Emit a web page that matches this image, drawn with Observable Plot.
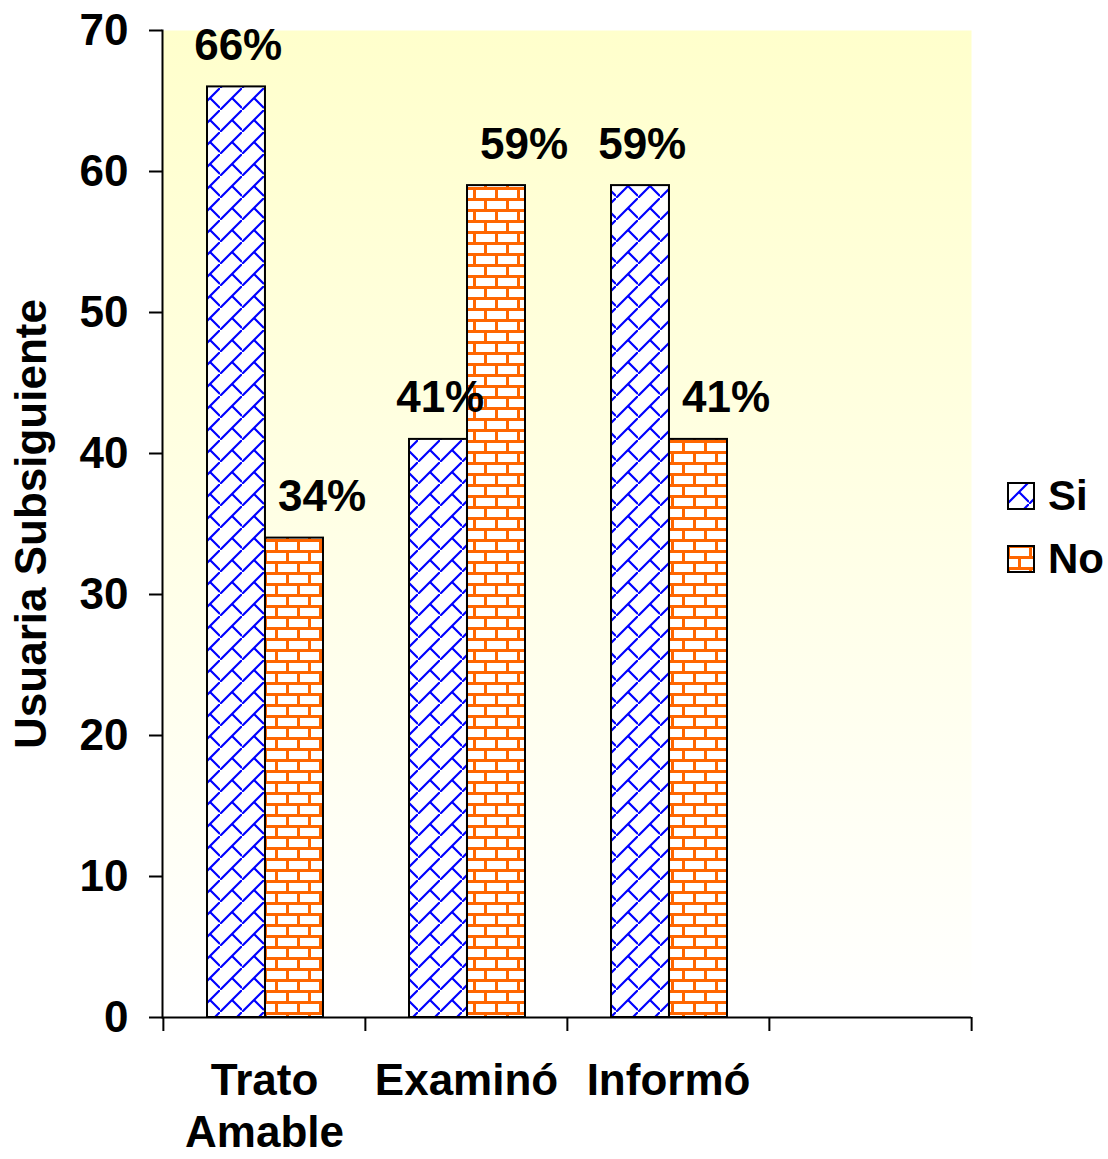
<!DOCTYPE html>
<html><head><meta charset="utf-8">
<script src="https://cdn.jsdelivr.net/npm/d3@7"></script>
<script src="https://cdn.jsdelivr.net/npm/@observablehq/plot@0.6"></script>
<style>
body{margin:0;background:#fff;}
#wrap{position:relative;width:1108px;height:1159px;font-family:"Liberation Sans",Arial,sans-serif;font-weight:bold;}
.leg{position:absolute;left:1007px;display:flex;align-items:center;font-size:42px;line-height:1;}
.leg svg{display:block;margin-right:13px;}
</style></head>
<body>
<svg width="0" height="0" style="position:absolute">
  <defs>
    <linearGradient id="bgGrad" x1="0" y1="0" x2="0" y2="1">
      <stop offset="0" stop-color="#FFFFCC"/>
      <stop offset="1" stop-color="#FFFFFF"/>
    </linearGradient>
    <pattern id="patSi" patternUnits="userSpaceOnUse" width="22" height="22">
      <rect width="22" height="22" fill="#fff"/>
      <path d="M-2,24 L24,-2 M12,10 L22,20" stroke="#0000FF" stroke-width="2.2" fill="none"/>
    </pattern>
    <pattern id="patNo" patternUnits="userSpaceOnUse" width="22" height="22">
      <rect width="22" height="22" fill="#fff"/>
      <path d="M0,1.5 H22 M0,12.5 H22 M1.5,0 V11 M12.5,11 V22" stroke="#FF6600" stroke-width="3" fill="none"/>
    </pattern>
  </defs>
</svg>
<div id="wrap"></div>
<script>
const categories = ["Trato Amable", "Examinó", "Informó", " "];
const categoryLabels = ["Trato\nAmable", "Examinó", "Informó", ""];
const series = ["Si", "No"];
const siValues = [66, 41, 59];
const noValues = [34, 59, 41];
const siLabels = ["66%", "41%", "59%"];
const noLabels = ["34%", "59%", "41%"];
const yTicks = [0, 10, 20, 30, 40, 50, 60, 70];

const siRows = siValues.map((v, i) => ({category: categories[i], series: "Si", value: v, label: siLabels[i]}));
const noRows = noValues.map((v, i) => ({category: categories[i], series: "No", value: v, label: noLabels[i]}));

const W = 1108, H = 1159, mL = 162, mR = 137, mT = 30, mB = 142;
const bw = (W - mL - mR) / categories.length;

const plot = Plot.plot({
  width: W, height: H,
  marginLeft: mL, marginRight: mR, marginTop: mT, marginBottom: mB,
  style: {fontFamily: '"Liberation Sans", Arial, sans-serif', fontWeight: "bold", color: "black", background: "transparent"},
  x: {type: "band", domain: categories, padding: 0},
  y: {domain: [0, 70]},
  marks: [
    Plot.frame({fill: "url(#bgGrad)", stroke: "none"}),
    Plot.barY(siRows, {x: "category", y: "value", fill: "url(#patSi)", stroke: "black", strokeWidth: 2,
      insetLeft: bw * 0.2176, insetRight: bw * 0.4946}),
    Plot.barY(noRows, {x: "category", y: "value", fill: "url(#patNo)", stroke: "black", strokeWidth: 2,
      insetLeft: bw * 0.5044, insetRight: bw * 0.2077}),
    Plot.text(siRows, {x: "category", y: "value", text: "label", dx: -bw * 0.13, dy: -27, lineAnchor: "bottom", fontSize: 44, fill: "black"}),
    Plot.text(noRows, {x: "category", y: "value", text: "label", dx: bw * 0.285, dy: -27, lineAnchor: "bottom", fontSize: 44, fill: "black"}),
    Plot.ruleY([0], {stroke: "black", strokeWidth: 2}),
    Plot.frame({anchor: "left", stroke: "black", strokeWidth: 2}),
    Plot.axisY({ticks: yTicks, tickSize: 13, tickPadding: 21, fontSize: 44, label: null, strokeWidth: 2}),
    Plot.axisX({ticks: categories, tickSize: 0, tickPadding: 41, fontSize: 44, lineHeight: 1.18, label: null,
      tickFormat: d => categoryLabels[categories.indexOf(d)]}),
    Plot.axisX({ticks: categories, tickSize: 14, tickFormat: () => "", dx: -bw / 2, label: null, strokeWidth: 2}),
    Plot.axisX({ticks: [categories[categories.length - 1]], tickSize: 14, tickFormat: () => "", dx: bw / 2, label: null, strokeWidth: 2}),
    Plot.text(["Usuaria Subsiguiente"], {frameAnchor: "left", rotate: -90, dx: -131, fontSize: 44, fill: "black", textAnchor: "middle", lineAnchor: "middle"})
  ]
});

const wrap = document.getElementById("wrap");
wrap.appendChild(plot);

const legendTops = [481, 544];
const legendFills = ["url(#patSi)", "url(#patNo)"];
series.forEach((s, i) => {
  const d = document.createElement("div");
  d.className = "leg";
  d.style.top = (legendTops[i] - 6) + "px";
  d.innerHTML = `<svg width="28" height="28"><rect x="1" y="1" width="26" height="26" fill="${legendFills[i]}" stroke="black" stroke-width="2"/></svg><span>${s}</span>`;
  wrap.appendChild(d);
});
</script>
</body></html>
